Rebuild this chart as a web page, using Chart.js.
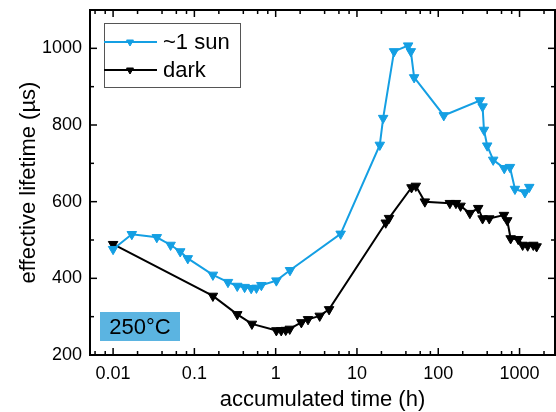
<!DOCTYPE html>
<html>
<head>
<meta charset="utf-8">
<script src="https://cdn.jsdelivr.net/npm/chart.js@4.4.1/dist/chart.umd.min.js"></script>
<style>
  html, body { margin: 0; padding: 0; background: #fff; }
  #wrap { width: 556px; height: 412px; }
</style>
</head>
<body>
<div id="wrap"><canvas id="chart" width="556" height="412"></canvas></div>
<script>
// Lifetime vs accumulated time, 250°C

const sunTime = [0.01, 0.017, 0.0345, 0.051, 0.067, 0.083, 0.169, 0.259, 0.337, 0.415, 0.50, 0.58, 0.667,
  1.02, 1.5, 6.3, 19.1, 21, 28.6, 42.6, 46, 50.5, 117, 325, 351, 365, 400, 474, 649, 762, 878, 1164, 1317];
const sunTau = [476, 515, 507, 487, 470, 452, 409, 390, 380, 377, 374, 375, 382,
  394, 421, 516, 748, 818, 992, 1007, 992, 924, 825, 864, 848, 787, 746, 709, 687, 690, 633, 624, 638];

const darkTime = [0.01, 0.169, 0.337, 0.51, 1.02, 1.17, 1.33, 1.49, 2.07, 2.5, 3.48, 4.54, 22.6, 24.8,
  46.9, 53, 68.4, 139, 165, 188, 245, 310, 351, 424, 643, 706, 777, 963, 1092, 1259, 1476, 1622];
const darkTau = [489, 354, 306, 281, 264, 264, 265, 268, 285, 293, 302, 319, 545, 557,
  637, 641, 600, 596, 596, 589, 570, 583, 556, 556, 565, 551, 504, 502, 487, 485, 487, 483];

const seriesNames = ['~1 sun', 'dark'];
const xMajor = [0.01, 0.1, 1, 10, 100, 1000];
const xTickLabels = ['0.01', '0.1', '1', '10', '100', '1000'];
const xMinorMant = [2, 4, 6, 8];

const BLUE = '#149fe3';
const FONT = '"Liberation Sans", Arial, sans-serif';

function isMajor(v) {
  return xMajor.some(m => Math.abs(m - v) / m < 1e-6);
}

// tick values for the log axis: decades plus 2,4,6,8 minor ticks
function buildXTicks(min, max) {
  const vals = [];
  [0.001].concat(xMajor).forEach(d => {
    vals.push(d);
    xMinorMant.forEach(m => vals.push(d * m));
  });
  return vals.filter(v => v >= min && v <= max).sort((a, b) => a - b);
}

// Origin-style frame with inward ticks on all four sides
const framePlugin = {
  id: 'frame',
  afterDraw(chart) {
    const { ctx, chartArea: a, scales: { x, y } } = chart;
    ctx.save();
    ctx.strokeStyle = '#000';
    ctx.lineWidth = 1.5;
    const seg = (x1, y1, x2, y2) => { ctx.beginPath(); ctx.moveTo(x1, y1); ctx.lineTo(x2, y2); ctx.stroke(); };

    x.ticks.forEach(t => {
      const px = x.getPixelForValue(t.value);
      const len = isMajor(t.value) ? 7 : 4;
      seg(px, a.bottom, px, a.bottom - len);
      seg(px, a.top, px, a.top + len);
    });
    y.ticks.forEach(t => {
      const py = y.getPixelForValue(t.value);
      const len = t.value % 200 === 0 ? 7 : 4;
      seg(a.left, py, a.left + len, py);
      seg(a.right, py, a.right - len, py);
    });

    ctx.lineWidth = 2;
    ctx.strokeRect(a.left, a.top, a.right - a.left, a.bottom - a.top);

    // legend box
    ctx.lineWidth = 1;
    ctx.strokeStyle = '#555';
    ctx.strokeRect(104.5, 23.5, 136, 64);
    const rows = [[seriesNames[0], BLUE, 42], [seriesNames[1], '#000', 70]];
    ctx.font = '22px ' + FONT;
    ctx.textBaseline = 'middle';
    rows.forEach(([label, color, ry]) => {
      ctx.strokeStyle = color;
      ctx.fillStyle = color;
      ctx.lineWidth = 2;
      seg(104, ry, 157, ry);
      ctx.lineWidth = 1;
      Chart.helpers.drawPoint(ctx, { pointStyle: 'triangle', rotation: 180, radius: 4, borderWidth: 1 }, 130, ry);
      ctx.fillStyle = '#000';
      ctx.fillText(label, 163, ry + 1);
    });

    // temperature label
    ctx.fillStyle = '#5bb4e1';
    ctx.fillRect(100, 312, 80, 29);
    ctx.fillStyle = '#000';
    ctx.textAlign = 'center';
    ctx.fillText('250°C', 140, 327.5);
    ctx.restore();
  }
};

function makeData(xs, ys) {
  return xs.map((v, i) => ({ x: v, y: ys[i] }));
}

const ctx = document.getElementById('chart');
new Chart(ctx, {
  type: 'line',
  data: {
    datasets: [
      {
        label: seriesNames[0],
        data: makeData(sunTime, sunTau),
        borderColor: BLUE,
        backgroundColor: BLUE,
        borderWidth: 2,
        pointStyle: 'triangle',
        pointRotation: 180,
        pointRadius: 5.5,
        pointBorderWidth: 1,
        tension: 0
      },
      {
        label: seriesNames[1],
        data: makeData(darkTime, darkTau),
        borderColor: '#000',
        backgroundColor: '#000',
        borderWidth: 2,
        pointStyle: 'triangle',
        pointRotation: 180,
        pointRadius: 5.5,
        pointBorderWidth: 1,
        tension: 0
      }
    ]
  },
  options: {
    responsive: false,
    animation: false,
    devicePixelRatio: 1,
    layout: { autoPadding: false, padding: { top: 10, right: 1, left: 0, bottom: 0 } },
    plugins: { legend: { display: false }, tooltip: { enabled: false } },
    scales: {
      x: {
        type: 'logarithmic',
        min: 0.0052,
        max: 2730,
        grid: { display: false, drawTicks: false },
        border: { display: false },
        afterBuildTicks: s => { s.ticks = buildXTicks(s.min, s.max).map(v => ({ value: v })); },
        afterFit: s => { s.height = 57; s.paddingLeft = 0; s.paddingRight = 0; },
        ticks: {
          autoSkip: false,
          maxRotation: 0,
          padding: 8,
          color: '#000',
          font: { family: FONT, size: 18 },
          callback: v => {
            const i = xMajor.findIndex(m => Math.abs(m - v) / m < 1e-6);
            return i >= 0 ? xTickLabels[i] : '';
          }
        },
        title: {
          display: true,
          text: 'accumulated time (h)',
          color: '#000',
          font: { family: FONT, size: 22, lineHeight: 1 },
          padding: { top: 0, bottom: 1 }
        }
      },
      y: {
        min: 200,
        max: 1100,
        grid: { display: false, drawTicks: false },
        border: { display: false },
        afterFit: s => { s.width = 90; s.paddingTop = 0; s.paddingBottom = 0; },
        ticks: {
          stepSize: 100,
          padding: 8,
          color: '#000',
          font: { family: FONT, size: 18 },
          callback: v => (v % 200 === 0 && v <= 1000 ? String(v) : '')
        },
        title: {
          display: true,
          text: 'effective lifetime (µs)',
          color: '#000',
          font: { family: FONT, size: 22, lineHeight: 1 },
          padding: { top: 18, bottom: 0 }
        }
      }
    }
  },
  plugins: [framePlugin]
});
</script>
</body>
</html>
